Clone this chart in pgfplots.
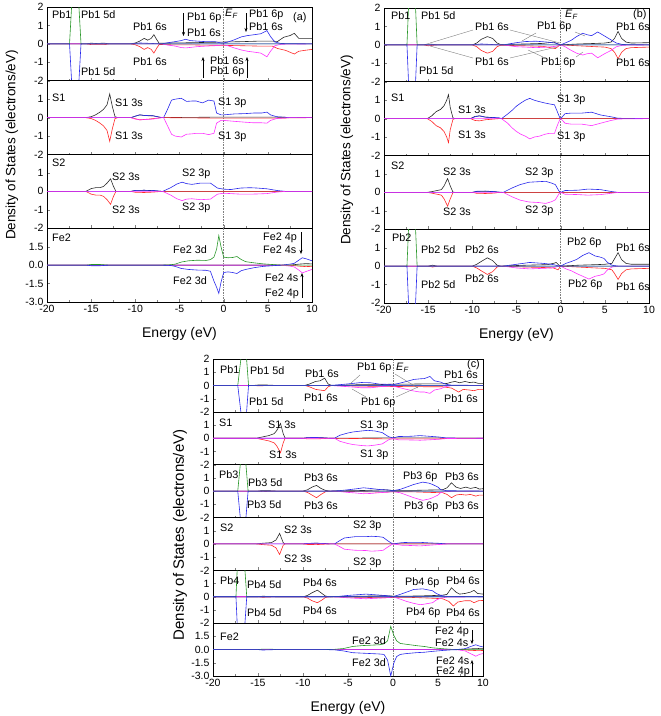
\documentclass[border=0pt]{standalone}
\usepackage{pgfplots}
\pgfplotsset{compat=1.18}
\usepackage{fontspec}
\setmainfont{Liberation Sans}
\usetikzlibrary{arrows.meta}
\definecolor{cS}{RGB}{40,40,40}
\definecolor{cR}{RGB}{255,40,40}
\definecolor{cB}{RGB}{40,40,235}
\definecolor{cM}{RGB}{255,50,255}
\definecolor{cG}{RGB}{40,150,40}
\pgfplotsset{
 dos/.style={scale only axis, xmin=-20, xmax=10, ymin=-2, ymax=2,
  xtick={-20,-15,...,10}, minor x tick num=1, tick align=inside,
  xtick pos=left, ytick pos=left, xticklabels={},
  ytick={-2,-1,0,1}, yticklabels={-2,-1,0,1},
  tick label style={font=\fontsize{10.5}{12}\selectfont},
  /pgf/number format/assume math mode=true,
  axis line style={line width=0.6pt},
  major tick length=3pt, minor tick length=2pt,
  every axis plot/.append style={line width=0.6pt, mark=none},
  anchor=north west},
 lastx/.style={xticklabels={-20,-15,-10,-5,0,5,10}, xlabel={Energy (eV)}, xlabel style={font=\fontsize{14}{16}\selectfont, yshift=-8pt}},
 fe/.style={ymin=-3,ymax=3, ytick={-3,-1.5,0,1.5}, yticklabels={-3.0,-1.5,0.0,1.5}},
 top/.style={ytick={-2,-1,0,1,2}, yticklabels={-2,-1,0,1,2}},
 ef/.style={densely dotted, gray, line width=0.6pt},
}
\begin{document}
\begin{tikzpicture}
\path[use as bounding box] (0pt,0pt) rectangle (661pt,-716pt);

%================ PANEL (a) ================
% Pb1
\begin{axis}[dos, top, at={(47pt,-7pt)}, width=265pt, height=73.75pt]
\addplot[ef] coordinates {(0,-3)(0,3)};
\addplot[cS] coordinates {(-20,0)(-15.5,0)(-15,0.04)(-14.5,0.02)(-13.5,0.04)(-13,0)(-10.5,0)(-10,0.05)(-9.5,0.15)(-9,0.3)(-8.6,0.2)(-8.2,0.3)(-7.9,0.5)(-7.6,0.25)(-7.3,0.03)(-6,0.05)(-4,0.06)(-2,0.08)(0,0.1)(2,0.12)(4,0.15)(5.5,0.15)(6.1,0.13)(6.8,0.36)(7.5,0.45)(8,0.57)(8.5,0.3)(9.2,0.3)(10,0.3)};
\addplot[cR] coordinates {(-20,0)(-15.5,0)(-15,-0.04)(-13.5,-0.04)(-13,0)(-10.5,0)(-10,-0.05)(-9.5,-0.15)(-9,-0.3)(-8.6,-0.2)(-8.2,-0.3)(-7.9,-0.5)(-7.6,-0.25)(-7.3,-0.03)(-6,-0.05)(-4,-0.05)(-2,-0.07)(0,-0.08)(2,-0.1)(4,-0.12)(5.5,-0.12)(6.1,-0.25)(7,-0.35)(8,-0.55)(8.5,-0.4)(9.2,-0.35)(10,-0.3)};
\addplot[cB] coordinates {(-20,0)(-10.5,0)(-9.5,0.05)(-8.5,0.03)(-7,0)(-6.5,0.05)(-5.5,0.12)(-4.8,0.18)(-4.3,0.25)(-3.8,0.18)(-3,0.15)(-2,0.12)(-1,0.12)(-0.3,0.05)(0,0.05)(0.6,0.12)(1.2,0.22)(2,0.38)(2.7,0.45)(3.5,0.5)(4.2,0.55)(4.9,0.72)(5.3,0.4)(5.8,0.1)(6.5,0.02)(10,0)};
\addplot[cM] coordinates {(-20,0)(-7,0)(-6.5,-0.05)(-5.5,-0.12)(-4.8,-0.2)(-4.3,-0.22)(-3,-0.15)(-2,-0.12)(-1,-0.1)(0,-0.05)(0.6,-0.12)(1.2,-0.22)(2,-0.33)(2.7,-0.4)(3.5,-0.45)(4.2,-0.5)(4.9,-0.7)(5.3,-0.4)(5.8,-0.1)(6.5,-0.02)(10,0)};
\addplot[cG] coordinates {(-20,0)(-17.45,0)(-17.1,3)(-16.8,6)(-16.5,3)(-16.15,0)(10,0)};
\addplot[cB] coordinates {(-20,0)(-17.45,0)(-17.1,-3)(-16.8,-6)(-16.5,-3)(-16.15,0)(10,0)};
\end{axis}
% S1
\begin{axis}[dos, at={(47pt,-80.75pt)}, width=265pt, height=73.75pt]
\addplot[ef] coordinates {(0,-3)(0,3)};
\addplot[cS] coordinates {(-20,0)(-15.6,0)(-15,0.05)(-14.5,0.15)(-14,0.3)(-13.6,0.45)(-13.2,0.7)(-12.9,1.28)(-12.6,0.6)(-12.3,0.05)(-12,0)(-10.5,0)(-10,0.08)(-9.5,0.15)(-9,0.12)(-8.5,0.1)(-8,0.1)(-7.5,0.05)(-7,0)(0,0.03)(5,0.03)(10,0)};
\addplot[cR] coordinates {(-20,0)(-15.6,0)(-15,-0.05)(-14.5,-0.15)(-14,-0.3)(-13.6,-0.45)(-13.2,-0.7)(-12.9,-1.28)(-12.6,-0.6)(-12.3,-0.05)(-12,0)(-10.5,0)(-10,-0.06)(-9.5,-0.12)(-8.5,-0.08)(-7,0)(0,-0.03)(5,-0.03)(10,0)};
\addplot[cB] coordinates {(-20,0)(-10.5,0)(-10,0.08)(-9.5,0.15)(-9,0.12)(-8,0.1)(-7,0)(-6.8,0)(-6.4,0.4)(-5.9,0.95)(-5.5,1.0)(-4.8,1.05)(-4.2,0.88)(-3.6,0.9)(-3.1,0.9)(-2.4,0.8)(-1.7,0.95)(-1.1,0.9)(-0.8,0.25)(-0.3,0.15)(0,0.15)(1.2,0.2)(2.5,0.22)(3.4,0.25)(4.3,0.25)(4.9,0.3)(5.3,0.15)(6,0.05)(7.5,0)(10,0)};
\addplot[cM] coordinates {(-20,0)(-10.5,0)(-10,-0.08)(-9.5,-0.12)(-8,-0.08)(-7,0)(-6.8,0)(-6.4,-0.4)(-5.9,-0.9)(-5.5,-1.0)(-4.8,-1.05)(-4.2,-0.9)(-3.6,-0.88)(-3.1,-0.85)(-2.4,-0.85)(-1.7,-0.92)(-1.1,-0.85)(-0.8,-0.3)(-0.3,-0.15)(0,-0.15)(1.2,-0.2)(2.5,-0.25)(3.4,-0.28)(4.3,-0.28)(4.9,-0.3)(5.3,-0.15)(6,-0.05)(7.5,0)(10,0)};
\end{axis}
% S2
\begin{axis}[dos, at={(47pt,-154.5pt)}, width=265pt, height=73.75pt]
\addplot[ef] coordinates {(0,-3)(0,3)};
\addplot[cS] coordinates {(-20,0)(-15.6,0)(-15,0.15)(-14.5,0.2)(-14,0.2)(-13.6,0.27)(-13.2,0.45)(-12.8,0.68)(-12.5,0.3)(-12.2,0)(-10.5,0)(-10,0.05)(-9,0.06)(-8,0.04)(-7,0)(10,0)};
\addplot[cR] coordinates {(-20,0)(-15.6,0)(-15,-0.15)(-14.5,-0.2)(-14,-0.2)(-13.6,-0.27)(-13.2,-0.45)(-12.8,-0.7)(-12.5,-0.3)(-12.2,0)(-10.5,0)(-10,-0.05)(-9,-0.06)(-8,-0.04)(-7,0)(10,0)};
\addplot[cB] coordinates {(-20,0)(-10.5,0)(-10,0.05)(-9,0.06)(-8,0.05)(-7,0)(-6.9,0)(-6,0.2)(-5.3,0.4)(-4.7,0.5)(-4.2,0.42)(-3.6,0.38)(-2.6,0.45)(-1.5,0.45)(-0.7,0.18)(0,0.12)(0.8,0.1)(1.9,0.18)(3,0.2)(3.8,0.18)(4.9,0.14)(6,0.05)(7,0)(10,0)};
\addplot[cM] coordinates {(-20,0)(-6.9,0)(-6,-0.2)(-5.3,-0.4)(-4.7,-0.5)(-4.2,-0.42)(-3.6,-0.4)(-2.6,-0.45)(-1.5,-0.42)(-0.7,-0.15)(0,-0.1)(0.8,-0.12)(1.9,-0.15)(3,-0.15)(3.8,-0.14)(4.9,-0.12)(6,-0.04)(7,0)(10,0)};
\end{axis}
% Fe2
\begin{axis}[dos, fe, lastx, at={(47pt,-228.25pt)}, width=265pt, height=73.75pt]
\addplot[ef] coordinates {(0,-3)(0,3)};
\addplot[cS] coordinates {(-20,0)(7.5,0)(8.5,0.08)(9.3,0.12)(10,0.1)};
\addplot[cR] coordinates {(-20,0)(7.5,0)(8.5,-0.08)(9.3,-0.12)(10,-0.1)};
\addplot[cB] coordinates {(-20,0)(6.5,0)(7.5,0.08)(8,0.15)(8.5,0.4)(8.9,0.6)(9.4,0.5)(10,0.35)};
\addplot[cM] coordinates {(-20,0)(6.5,0)(7.5,-0.08)(8,-0.15)(8.5,-0.4)(8.9,-0.63)(9.4,-0.5)(10,-0.35)};
\addplot[cG] coordinates {(-20,0)(-15.5,0)(-15,0.05)(-14,0.05)(-13,0)(-7,0)(-6,0.03)(-5.5,0.08)(-4.8,0.25)(-4,0.35)(-3,0.4)(-2,0.38)(-1.5,0.45)(-1.1,0.65)(-0.8,1.3)(-0.55,2.4)(-0.3,1.5)(0,0.65)(0.5,0.6)(1,0.62)(1.5,0.7)(2,0.45)(2.5,0.28)(3.5,0.18)(4.5,0.1)(5.5,0.05)(6.5,0)(10,0)};
\addplot[cB] coordinates {(-20,0)(-15.5,0)(-15,-0.05)(-14,-0.05)(-13,0)(-7,0)(-6,-0.03)(-5.5,-0.1)(-4.8,-0.27)(-4,-0.35)(-3,-0.4)(-2,-0.42)(-1.5,-0.5)(-1.1,-1.3)(-0.8,-1.8)(-0.55,-2.3)(-0.3,-1.4)(0,-0.6)(0.5,-0.55)(1,-0.6)(1.5,-0.68)(2,-0.45)(2.5,-0.35)(3.5,-0.2)(4.5,-0.1)(5.5,-0.05)(6.5,0)};
\end{axis}

%================ PANEL (b) ================
% Pb1
\begin{axis}[dos, top, at={(384pt,-8pt)}, width=265pt, height=73.75pt]
\addplot[ef] coordinates {(0,-3)(0,3)};
\addplot[cS] coordinates {(-20,0)(-15.5,0)(-15,0.05)(-14.5,0.03)(-14,0)(-10,0)(-9.5,0.1)(-9,0.3)(-8.3,0.45)(-7.7,0.35)(-7.2,0.1)(-6.8,0.02)(-4,0.05)(-2,0.08)(-0.8,0.15)(-0.3,0.05)(0,0)(2,0.05)(4,0.08)(5,0.1)(5.7,0.15)(6.1,0.35)(6.5,0.73)(6.9,0.35)(7.4,0.15)(8,0.1)(10,0.12)};
\addplot[cR] coordinates {(-20,0)(-15.5,0)(-15,-0.05)(-14,0)(-10,0)(-9.5,-0.1)(-9,-0.3)(-8.3,-0.45)(-7.7,-0.35)(-7.2,-0.1)(-6.8,-0.02)(-4,-0.05)(-2,-0.08)(-0.6,-0.2)(-0.2,-0.05)(0,0)(2,-0.05)(4,-0.1)(5,-0.12)(5.7,-0.2)(6.1,-0.4)(6.5,-0.75)(6.9,-0.4)(7.4,-0.2)(8,-0.15)(10,-0.12)};
\addplot[cB] coordinates {(-20,0)(-10,0)(-9,0.05)(-7,0)(-6.5,0)(-5,0.12)(-4,0.18)(-2.8,0.2)(-1.5,0.15)(-0.6,0.1)(-0.2,0.03)(0,0)(0.5,0.1)(1.2,0.25)(1.8,0.45)(2.5,0.63)(3,0.55)(3.5,0.5)(4.2,0.7)(4.9,0.5)(5.7,0.27)(6.3,0.1)(7,0.02)(10,0)};
\addplot[cM] coordinates {(-20,0)(-6.5,0)(-5,-0.1)(-4,-0.12)(-2.8,-0.15)(-1.5,-0.12)(-0.6,-0.08)(0,0)(0.5,-0.1)(1.2,-0.3)(1.8,-0.45)(2.5,-0.55)(3,-0.48)(3.5,-0.45)(4.2,-0.7)(4.9,-0.5)(5.7,-0.3)(6.3,-0.1)(7,-0.02)(10,0)};
\addplot[cG] coordinates {(-20,0)(-17.4,0)(-17.05,4)(-16.8,7)(-16.6,4)(-16.25,0)(10,0)};
\addplot[cB] coordinates {(-20,0)(-17.4,0)(-17.05,-4)(-16.8,-7)(-16.6,-4)(-16.25,0)(10,0)};
\end{axis}
% S1
\begin{axis}[dos, at={(384pt,-81.75pt)}, width=265pt, height=73.75pt]
\addplot[ef] coordinates {(0,-3)(0,3)};
\addplot[cS] coordinates {(-20,0)(-15.1,0)(-14.6,0.15)(-14.1,0.38)(-13.6,0.5)(-13.2,0.7)(-12.9,1.0)(-12.7,1.3)(-12.5,0.6)(-12.2,0.05)(-12,0)(-10.2,0)(-9.7,0.12)(-9.2,0.15)(-8.5,0.08)(-7.5,0.05)(-7,0)(10,0)};
\addplot[cR] coordinates {(-20,0)(-15.1,0)(-14.6,-0.15)(-14.1,-0.38)(-13.6,-0.5)(-13.2,-0.7)(-12.9,-1.0)(-12.7,-1.3)(-12.5,-0.6)(-12.2,-0.05)(-12,0)(-10.2,0)(-9.7,-0.1)(-9.2,-0.12)(-8.5,-0.06)(-7,0)(10,0)};
\addplot[cB] coordinates {(-20,0)(-10.2,0)(-9.7,0.1)(-9.2,0.15)(-8.5,0.08)(-7,0.05)(-6.7,0)(-6,0.25)(-5.5,0.45)(-5,0.68)(-4.5,0.85)(-4,1.0)(-3.5,1.1)(-3,1.0)(-2.4,0.92)(-1.8,0.85)(-1.3,0.8)(-0.7,0.75)(-0.4,0.4)(-0.1,0.05)(0,0)(0.5,0.27)(1.2,0.3)(2.4,0.3)(3.5,0.35)(4.5,0.2)(5.7,0.1)(6.5,0.02)(10,0)};
\addplot[cM] coordinates {(-20,0)(-6.7,0)(-6,-0.25)(-5.5,-0.5)(-5,-0.7)(-4.5,-0.85)(-4,-0.95)(-3.5,-1.1)(-3,-1.0)(-2.4,-0.95)(-1.8,-0.85)(-1.3,-0.8)(-0.7,-0.8)(-0.4,-0.4)(-0.1,-0.05)(0,0)(0.5,-0.25)(1.2,-0.3)(2.4,-0.3)(3.5,-0.38)(4.5,-0.25)(5.7,-0.1)(6.5,-0.02)(10,0)};
\end{axis}
% S2
\begin{axis}[dos, at={(384pt,-155.5pt)}, width=265pt, height=73.75pt]
\addplot[ef] coordinates {(0,-3)(0,3)};
\addplot[cS] coordinates {(-20,0)(-15.1,0)(-14.5,0.05)(-14,0.1)(-13.5,0.15)(-13.2,0.35)(-12.8,0.75)(-12.5,0.35)(-12.2,0.02)(-12,0)(-10,0)(-9.5,0.05)(-8.5,0.06)(-7.5,0.04)(-7,0)(10,0)};
\addplot[cR] coordinates {(-20,0)(-15.1,0)(-14.5,-0.05)(-14,-0.1)(-13.5,-0.15)(-13.2,-0.35)(-12.8,-0.75)(-12.5,-0.35)(-12.2,-0.02)(-12,0)(-10,0)(-9.5,-0.05)(-8.5,-0.06)(-7.5,-0.04)(-7,0)(10,0)};
\addplot[cB] coordinates {(-20,0)(-10,0)(-9.5,0.06)(-8.5,0.07)(-7.5,0.04)(-6.5,0)(-5.5,0.24)(-4.6,0.42)(-3.6,0.55)(-2.5,0.58)(-1.7,0.6)(-1,0.5)(-0.6,0.42)(-0.2,0.08)(0,0)(0.5,0.1)(2,0.12)(3.1,0.18)(4.5,0.15)(5.7,0.05)(6.5,0)(10,0)};
\addplot[cM] coordinates {(-20,0)(-6.5,0)(-5.5,-0.24)(-4.6,-0.42)(-3.6,-0.52)(-2.5,-0.55)(-1.7,-0.6)(-1,-0.5)(-0.6,-0.4)(-0.2,-0.08)(0,0)(0.5,-0.1)(2,-0.12)(3.1,-0.15)(4.5,-0.12)(5.7,-0.05)(6.5,0)(10,0)};
\end{axis}
% Pb2
\begin{axis}[dos, lastx, at={(384pt,-229.25pt)}, width=265pt, height=73.75pt]
\addplot[ef] coordinates {(0,-3)(0,3)};
\addplot[cS] coordinates {(-20,0)(-15,0)(-14.5,0.05)(-14,0)(-10,0)(-9.5,0.1)(-9,0.25)(-8.3,0.45)(-7.7,0.3)(-7.2,0.05)(-6.8,0)(-4,0.05)(-1.5,0.08)(-0.8,0.15)(-0.5,0.2)(-0.2,0.05)(0,0)(2,0.05)(4,0.08)(5,0.1)(5.8,0.15)(6.1,0.4)(6.5,0.73)(6.9,0.35)(7.4,0.15)(8,0.1)(10,0.1)};
\addplot[cR] coordinates {(-20,0)(-15,0)(-14.5,-0.05)(-14,0)(-10,0)(-9.5,-0.1)(-9,-0.25)(-8.3,-0.45)(-7.7,-0.3)(-7.2,-0.05)(-6.8,0)(-4,-0.05)(-1.5,-0.08)(-0.8,-0.1)(-0.3,-0.2)(0,0)(2,-0.05)(4,-0.1)(5,-0.12)(5.8,-0.2)(6.1,-0.4)(6.5,-0.72)(6.9,-0.4)(7.4,-0.2)(8,-0.15)(10,-0.12)};
\addplot[cB] coordinates {(-20,0)(-6.5,0)(-5,0.1)(-3.5,0.2)(-2,0.15)(-1,0.1)(-0.3,0.02)(0,0)(0.6,0.15)(1.2,0.25)(1.8,0.36)(2.5,0.58)(3.2,0.73)(3.9,0.55)(4.4,0.5)(4.9,0.42)(5.3,0.2)(5.8,0.05)(6.5,0)(10,0)};
\addplot[cM] coordinates {(-20,0)(-6.5,0)(-5,-0.1)(-3.5,-0.15)(-2,-0.12)(-1,-0.1)(-0.3,-0.02)(0,0)(0.6,-0.15)(1.2,-0.25)(1.8,-0.4)(2.5,-0.55)(3.2,-0.7)(3.9,-0.55)(4.4,-0.5)(4.9,-0.42)(5.3,-0.2)(5.8,-0.05)(6.5,0)(10,0)};
\addplot[cG] coordinates {(-20,0)(-17.4,0)(-17.05,4)(-16.8,7)(-16.6,4)(-16.25,0)(10,0)};
\addplot[cB] coordinates {(-20,0)(-17.4,0)(-17.05,-4)(-16.8,-7)(-16.6,-4)(-16.25,0)(10,0)};
\end{axis}

%================ PANEL (c) ================
% Pb1
\begin{axis}[dos, top, at={(213pt,-359pt)}, width=270pt, height=52.83pt]
\addplot[ef] coordinates {(0,-3)(0,3)};
\addplot[cS] coordinates {(-20,0)(-15.5,0)(-15,0.03)(-14,0.03)(-13,0)(-9.8,0)(-9.3,0.1)(-8.6,0.3)(-8.1,0.35)(-7.6,0.55)(-7.2,0.1)(-6.8,0)(-4,0.05)(-2,0.05)(0,0.1)(2,0.1)(4,0.12)(5.5,0.12)(6,0.15)(6.5,0.25)(6.9,0.3)(7.4,0.2)(8,0.3)(8.5,0.22)(9,0.25)(9.5,0.15)(10,0.15)};
\addplot[cR] coordinates {(-20,0)(-15.5,0)(-15,-0.03)(-13,0)(-9.8,0)(-9.3,-0.1)(-8.6,-0.3)(-8.1,-0.35)(-7.6,-0.4)(-7.2,-0.1)(-6.8,0)(-4,-0.05)(0,-0.08)(4,-0.1)(5.5,-0.1)(6.5,-0.2)(7.3,-0.5)(7.8,-0.3)(8.5,-0.35)(9,-0.4)(9.5,-0.3)(10,-0.3)};
\addplot[cB] coordinates {(-20,0)(-7,0)(-6,0.05)(-4.5,0.15)(-3.5,0.22)(-2.5,0.2)(-1.5,0.1)(-0.5,0.08)(0,0.05)(0.8,0.18)(1.5,0.3)(2.3,0.45)(3,0.5)(3.5,0.52)(4.1,0.68)(4.6,0.35)(5.3,0.25)(5.8,0.1)(6.5,0.02)(10,0)};
\addplot[cM] coordinates {(-20,0)(-7,0)(-6,-0.05)(-4.5,-0.12)(-3.5,-0.18)(-2.5,-0.18)(-1.5,-0.1)(-0.5,-0.05)(0,-0.05)(0.8,-0.18)(1.5,-0.3)(2.3,-0.42)(3,-0.5)(3.5,-0.5)(4.1,-0.6)(4.6,-0.35)(5.3,-0.25)(5.8,-0.1)(6.5,-0.02)(10,0)};
\addplot[cG] coordinates {(-20,0)(-17.25,0)(-16.85,2.3)(-16.6,6)(-16.3,2.3)(-16.05,0)(10,0)};
\addplot[cB] coordinates {(-20,0)(-17.25,0)(-16.85,-2.3)(-16.6,-6)(-16.3,-2.3)(-16.05,0)(10,0)};
\end{axis}
% S1
\begin{axis}[dos, at={(213pt,-411.83pt)}, width=270pt, height=52.83pt]
\addplot[ef] coordinates {(0,-3)(0,3)};
\addplot[cS] coordinates {(-20,0)(-15.2,0)(-14.5,0.1)(-13.8,0.2)(-13.2,0.35)(-12.9,0.6)(-12.5,1.12)(-12.2,0.35)(-12,0.02)(-11.8,0)(-10,0)(-9.5,0.05)(-8.5,0.05)(-7.5,0.03)(-7,0)(0,0.03)(5,0.03)(6,0)(10,0)};
\addplot[cR] coordinates {(-20,0)(-15.2,0)(-14.5,-0.1)(-13.8,-0.2)(-13.2,-0.35)(-12.9,-0.6)(-12.5,-1.1)(-12.2,-0.35)(-12,-0.02)(-11.8,0)(-10,0)(-9.5,-0.05)(-8.5,-0.05)(-7,0)(0,-0.05)(5,-0.05)(6,0)(10,0)};
\addplot[cB] coordinates {(-20,0)(-10,0)(-9.5,0.05)(-8.5,0.06)(-7,0)(-6.5,0)(-5.9,0.23)(-5,0.4)(-4.4,0.48)(-3.5,0.55)(-2.8,0.6)(-2,0.55)(-1.2,0.43)(-0.5,0.12)(0,0.02)(0.6,0.13)(2,0.15)(3,0.2)(4,0.15)(5,0.1)(6,0.02)(10,0)};
\addplot[cM] coordinates {(-20,0)(-6.5,0)(-5.9,-0.23)(-5,-0.4)(-4.4,-0.48)(-3.5,-0.55)(-2.8,-0.58)(-2,-0.52)(-1.2,-0.43)(-0.5,-0.12)(0,-0.02)(0.6,-0.12)(2,-0.13)(3,-0.15)(4,-0.12)(5,-0.08)(6,-0.02)(10,0)};
\end{axis}
% Pb3
\begin{axis}[dos, at={(213pt,-464.67pt)}, width=270pt, height=52.83pt]
\addplot[ef] coordinates {(0,-3)(0,3)};
\addplot[cS] coordinates {(-20,0)(-15,0)(-14.5,0.04)(-13.5,0.02)(-13,0)(-10,0)(-9.5,0.1)(-9,0.3)(-8.5,0.43)(-8,0.2)(-7.5,0.05)(-7,0)(-3,0.05)(-1,0.1)(0,0.05)(2,0.05)(4,0.08)(5.5,0.1)(6,0.25)(6.5,0.63)(7,0.3)(7.5,0.2)(8.1,0.3)(8.6,0.2)(9.2,0.28)(9.6,0.15)(10,0.18)};
\addplot[cR] coordinates {(-20,0)(-15,0)(-14.5,-0.04)(-13,0)(-10,0)(-9.5,-0.1)(-9,-0.3)(-8.5,-0.5)(-8,-0.25)(-7.5,-0.05)(-7,0)(-3,-0.05)(-1,-0.08)(0,-0.05)(2,-0.05)(4,-0.1)(5.5,-0.12)(6,-0.25)(6.5,-0.5)(7,-0.3)(7.5,-0.25)(8.1,-0.3)(8.6,-0.25)(9.2,-0.38)(9.6,-0.3)(10,-0.3)};
\addplot[cB] coordinates {(-20,0)(-7,0)(-6,0.03)(-5,0.1)(-4,0.18)(-3.3,0.25)(-2.5,0.2)(-1.5,0.12)(-0.5,0.08)(0,0.03)(0.8,0.13)(1.5,0.3)(2.3,0.5)(3.3,0.68)(4,0.6)(4.4,0.5)(5,0.3)(5.3,0.1)(6,0.03)(10,0)};
\addplot[cM] coordinates {(-20,0)(-7,0)(-6,-0.03)(-5,-0.1)(-4,-0.15)(-3.3,-0.2)(-2.5,-0.18)(-1.5,-0.12)(-0.5,-0.08)(0,-0.03)(0.8,-0.13)(1.5,-0.3)(2.3,-0.5)(3.3,-0.7)(4,-0.6)(4.4,-0.5)(5,-0.3)(5.3,-0.1)(6,-0.03)(10,0)};
\addplot[cG] coordinates {(-20,0)(-17.25,0)(-16.9,2.5)(-16.7,6)(-16.4,2.5)(-16.1,0)(10,0)};
\addplot[cB] coordinates {(-20,0)(-17.25,0)(-16.9,-2.5)(-16.7,-6)(-16.4,-2.5)(-16.1,0)(10,0)};
\end{axis}
% S2
\begin{axis}[dos, at={(213pt,-517.5pt)}, width=270pt, height=52.83pt]
\addplot[ef] coordinates {(0,-3)(0,3)};
\addplot[cS] coordinates {(-20,0)(-15.2,0)(-14.5,0.05)(-13.5,0.1)(-13,0.3)(-12.6,0.8)(-12.2,0.1)(-12,0)(-10,0)(-9.5,0.04)(-8.5,0.05)(-7.5,0.03)(-7,0)(10,0)};
\addplot[cR] coordinates {(-20,0)(-15.2,0)(-14.5,-0.05)(-13.5,-0.1)(-13,-0.3)(-12.6,-0.8)(-12.2,-0.1)(-12,0)(-10,0)(-9.5,-0.04)(-8.5,-0.05)(-7,0)(10,0)};
\addplot[cB] coordinates {(-20,0)(-10,0)(-9.5,0.04)(-8.5,0.06)(-7,0)(-6.5,0)(-5.8,0.3)(-5.4,0.45)(-4.2,0.55)(-3,0.55)(-2.4,0.58)(-1.6,0.55)(-1.1,0.5)(-0.5,0.2)(-0.1,0.03)(0,0)(1,0.1)(2,0.12)(3,0.12)(4,0.08)(5,0.05)(6,0)(10,0)};
\addplot[cM] coordinates {(-20,0)(-6.5,0)(-5.8,-0.25)(-5.4,-0.4)(-4.2,-0.48)(-3,-0.5)(-2.4,-0.55)(-1.6,-0.52)(-1.1,-0.48)(-0.5,-0.2)(-0.1,-0.03)(0,0)(1,-0.1)(2,-0.12)(3,-0.15)(4,-0.1)(5,-0.05)(6,0)(10,0)};
\end{axis}
% Pb4
\begin{axis}[dos, at={(213pt,-570.33pt)}, width=270pt, height=52.83pt]
\addplot[ef] coordinates {(0,-3)(0,3)};
\addplot[cS] coordinates {(-20,0)(-15,0)(-14.5,0.04)(-13.5,0.02)(-13,0)(-10,0)(-9.5,0.1)(-9,0.3)(-8.4,0.5)(-7.9,0.25)(-7.5,0.05)(-7,0)(-3,0.05)(-1,0.08)(0,0.05)(2,0.05)(4,0.08)(5.5,0.12)(6,0.18)(6.5,0.68)(7,0.35)(7.4,0.2)(8,0.25)(8.6,0.35)(9,0.48)(9.4,0.25)(10,0.2)};
\addplot[cR] coordinates {(-20,0)(-15,0)(-14.5,-0.04)(-13,0)(-10,0)(-9.5,-0.1)(-9,-0.3)(-8.4,-0.45)(-7.9,-0.25)(-7.5,-0.05)(-7,0)(-3,-0.05)(-1,-0.08)(0,-0.05)(2,-0.05)(4,-0.1)(5.5,-0.15)(6.2,-0.35)(6.7,-0.7)(7.2,-0.4)(8,-0.3)(8.6,-0.3)(9,-0.45)(9.5,-0.3)(10,-0.28)};
\addplot[cB] coordinates {(-20,0)(-7,0)(-6,0.03)(-5,0.1)(-4,0.15)(-3,0.2)(-2,0.15)(-1,0.1)(-0.3,0.05)(0,0)(0.8,0.18)(1.5,0.35)(2.3,0.55)(3.3,0.6)(4.4,0.45)(4.8,0.25)(5.3,0.1)(6,0.03)(10,0)};
\addplot[cM] coordinates {(-20,0)(-7,0)(-6,-0.03)(-5,-0.08)(-4,-0.12)(-3,-0.15)(-2,-0.12)(-1,-0.08)(-0.3,-0.05)(0,0)(0.8,-0.18)(1.5,-0.35)(2.3,-0.5)(3,-0.6)(3.3,-0.58)(4.4,-0.45)(4.8,-0.25)(5.3,-0.1)(6,-0.03)(10,0)};
\addplot[cG] coordinates {(-20,0)(-17.45,0)(-17.25,3)(-16.95,7)(-16.55,3)(-16.25,0)(10,0)};
\addplot[cB] coordinates {(-20,0)(-17.45,0)(-17.25,-3)(-16.95,-7)(-16.55,-3)(-16.25,0)(10,0)};
\end{axis}
% Fe2
\begin{axis}[dos, fe, lastx, at={(213pt,-623.17pt)}, width=270pt, height=52.83pt]
\addplot[ef] coordinates {(0,-3)(0,3)};
\addplot[cS] coordinates {(-20,0)(7.5,0)(8.5,0.08)(9.5,0.12)(10,0.1)};
\addplot[cR] coordinates {(-20,0)(7.5,0)(8.5,-0.08)(9.5,-0.12)(10,-0.1)};
\addplot[cB] coordinates {(-20,0)(7,0)(8,0.1)(8.5,0.3)(9.2,0.55)(9.6,0.4)(10,0.3)};
\addplot[cM] coordinates {(-20,0)(7,0)(8,-0.15)(8.5,-0.4)(9.2,-0.75)(9.6,-0.55)(10,-0.45)};
\addplot[cG] coordinates {(-20,0)(-15,0)(-14.5,0.05)(-13.5,0.05)(-13,0)(-7.5,0)(-6.5,0.03)(-5.5,0.12)(-4.5,0.35)(-3.5,0.45)(-2.5,0.5)(-1.5,0.55)(-1,0.65)(-0.6,1.0)(-0.25,2.65)(0.1,1.6)(0.4,1.0)(0.8,0.7)(1.5,0.6)(2.6,0.45)(3.5,0.35)(4.4,0.2)(5.5,0.1)(6.5,0.03)(7.5,0)(10,0)};
\addplot[cB] coordinates {(-20,0)(-15,0)(-14.5,-0.05)(-13,0)(-7.5,0)(-6.5,-0.03)(-5.5,-0.15)(-4.5,-0.35)(-3.5,-0.4)(-2.5,-0.45)(-1.5,-0.5)(-1,-0.55)(-0.6,-1.2)(-0.25,-3.0)(0.1,-1.5)(0.4,-0.8)(0.8,-0.55)(1.5,-0.45)(2.6,-0.35)(3.5,-0.3)(4.4,-0.2)(5.5,-0.1)(6.5,-0.03)(7.5,0)};
\end{axis}

\begin{scope}[x=1pt,y=-1pt,
 lab/.style={anchor=west, inner sep=0pt, font=\fontsize{10.8}{12}\selectfont},
 ar/.style={-{Stealth[length=4pt,width=3pt]}, line width=0.5pt},
 ld/.style={gray, line width=0.4pt}]
%================ axis titles ================
\node[rotate=90, font=\fontsize{13.5}{15}\selectfont] at (12,145) {Density of States (electrons/eV)};
\node[rotate=90, font=\fontsize{13.5}{15}\selectfont] at (347,150) {Density of States (electrons/eV)};
\node[rotate=90, font=\fontsize{15}{17}\selectfont] at (180,535) {Density of States (electrons/eV)};

%================ annotations (a) ================
\node[lab] at (52,15) {Pb1};
\node[lab] at (81,15) {Pb1 5d};
\node[lab] at (81,72) {Pb1 5d};
\node[lab] at (133,27) {Pb1 6s};
\node[lab] at (133,62) {Pb1 6s};
\node[lab] at (187,18) {Pb1 6p};
\node[lab] at (187,33) {Pb1 6s};
\node[lab] at (225,14) {\textit{E}\textsubscript{\textit{F}}};
\node[lab] at (249,15) {Pb1 6p};
\node[lab] at (249,27) {Pb1 6s};
\node[lab] at (293,18) {(a)};
\node[lab] at (210,61) {Pb1 6s};
\node[lab] at (210,72) {Pb1 6p};
\draw[ar] (183.5,13) -- (183.5,36);
\draw[ar] (246,13) -- (246,32);
\draw[ar] (203,78) -- (203,57);
\draw[ar] (247,78) -- (247,57);
\node[lab] at (52,98) {S1};
\node[lab] at (115,103) {S1 3s};
\node[lab] at (115,136) {S1 3s};
\node[lab] at (218,103) {S1 3p};
\node[lab] at (218,137) {S1 3p};
\node[lab] at (52,163) {S2};
\node[lab] at (112,177) {S2 3s};
\node[lab] at (112,210) {S2 3s};
\node[lab] at (182,174) {S2 3p};
\node[lab] at (182,208) {S2 3p};
\node[lab] at (52,238) {Fe2};
\node[lab] at (173,250) {Fe2 3d};
\node[lab] at (173,281) {Fe2 3d};
\node[lab] at (263,238) {Fe2 4p};
\node[lab] at (263,250) {Fe2 4s};
\draw[ar] (301,232) -- (301,254);
\node[lab] at (265,278) {Fe2 4s};
\node[lab] at (265,294) {Fe2 4p};
\draw[ar] (302,298) -- (302,273);

%================ annotations (b) ================
\node[lab] at (391,16) {Pb1};
\node[lab] at (421,16) {Pb1 5d};
\node[lab] at (419,71) {Pb1 5d};
\node[lab] at (475,27) {Pb1 6s};
\node[lab] at (537,27) {Pb1 6p};
\node[lab] at (565,15) {\textit{E}\textsubscript{\textit{F}}};
\node[lab] at (633,15) {(b)};
\node[lab] at (616,27) {Pb1 6s};
\node[lab] at (475,62) {Pb1 6s};
\node[lab] at (541,63) {Pb1 6p};
\node[lab] at (616,63) {Pb1 6s};
\draw[ld] (473,30) -- (430,43);
\draw[ld] (510,30) -- (560,43);
\draw[ld] (536,33) -- (522,41);
\draw[ld] (575,32) -- (585,36);
\draw[ld] (473,58) -- (430,46);
\draw[ld] (510,58) -- (557,47);
\draw[ld] (543,57) -- (528,50);
\draw[ld] (576,57) -- (583,52);
\node[lab] at (391,98) {S1};
\node[lab] at (458,110) {S1 3s};
\node[lab] at (458,135) {S1 3s};
\node[lab] at (557,100) {S1 3p};
\node[lab] at (557,137) {S1 3p};
\node[lab] at (391,166) {S2};
\node[lab] at (443,172) {S2 3s};
\node[lab] at (443,212) {S2 3s};
\node[lab] at (525,173) {S2 3p};
\node[lab] at (525,211) {S2 3p};
\node[lab] at (392,238) {Pb2};
\node[lab] at (421,250) {Pb2 5d};
\node[lab] at (421,285) {Pb2 5d};
\node[lab] at (465,250) {Pb2 6s};
\node[lab] at (465,279) {Pb2 6s};
\node[lab] at (567,243) {Pb2 6p};
\node[lab] at (568,285) {Pb2 6p};
\node[lab] at (616,248) {Pb1 6s};
\node[lab] at (616,287) {Pb1 6s};

%================ annotations (c) ================
\node[lab] at (220,370) {Pb1};
\node[lab] at (250,371) {Pb1 5d};
\node[lab] at (249,402) {Pb1 5d};
\node[lab] at (305,374) {Pb1 6s};
\node[lab] at (304,398) {Pb1 6s};
\node[lab] at (357,368) {Pb1 6p};
\node[lab] at (361,403) {Pb1 6p};
\node[lab] at (396,368) {\textit{E}\textsubscript{\textit{F}}};
\node[lab] at (467,365) {(c)};
\node[lab] at (444,375) {Pb1 6s};
\node[lab] at (444,399) {Pb1 6s};
\draw[ld] (360,375) -- (350,384);
\draw[ld] (395,374) -- (418,388);
\draw[ld] (366,397) -- (352,389);
\draw[ld] (396,397) -- (418,387);
\node[lab] at (219,423) {S1};
\node[lab] at (268,425) {S1 3s};
\node[lab] at (269,455) {S1 3s};
\node[lab] at (360,426) {S1 3p};
\node[lab] at (360,455) {S1 3p};
\node[lab] at (219,475) {Pb3};
\node[lab] at (248,483) {Pb3 5d};
\node[lab] at (247,505) {Pb3 5d};
\node[lab] at (304,478) {Pb3 6s};
\node[lab] at (304,506) {Pb3 6s};
\node[lab] at (403,477) {Pb3 6p};
\node[lab] at (404,507) {Pb3 6p};
\node[lab] at (445,477) {Pb3 6s};
\node[lab] at (445,506) {Pb3 6s};
\node[lab] at (220,528) {S2};
\node[lab] at (284,530) {S2 3s};
\node[lab] at (284,559) {S2 3s};
\node[lab] at (353,526) {S2 3p};
\node[lab] at (353,563) {S2 3p};
\node[lab] at (220,581) {Pb4};
\node[lab] at (247,585) {Pb4 5d};
\node[lab] at (247,613) {Pb4 5d};
\node[lab] at (303,583) {Pb4 6s};
\node[lab] at (303,611) {Pb4 6s};
\node[lab] at (405,583) {Pb4 6p};
\node[lab] at (406,613) {Pb4 6p};
\node[lab] at (446,581) {Pb4 6s};
\node[lab] at (446,613) {Pb4 6s};
\node[lab] at (220,637) {Fe2};
\node[lab] at (352,641) {Fe2 3d};
\node[lab] at (352,663) {Fe2 3d};
\node[lab] at (435,632) {Fe2 4p};
\node[lab] at (435,643) {Fe2 4s};
\draw[ar] (472,630) -- (472,644);
\node[lab] at (436,661) {Fe2 4s};
\node[lab] at (436,672) {Fe2 4p};
\draw[ar] (472,677) -- (472,660);
\end{scope}
\end{tikzpicture}
\end{document}
